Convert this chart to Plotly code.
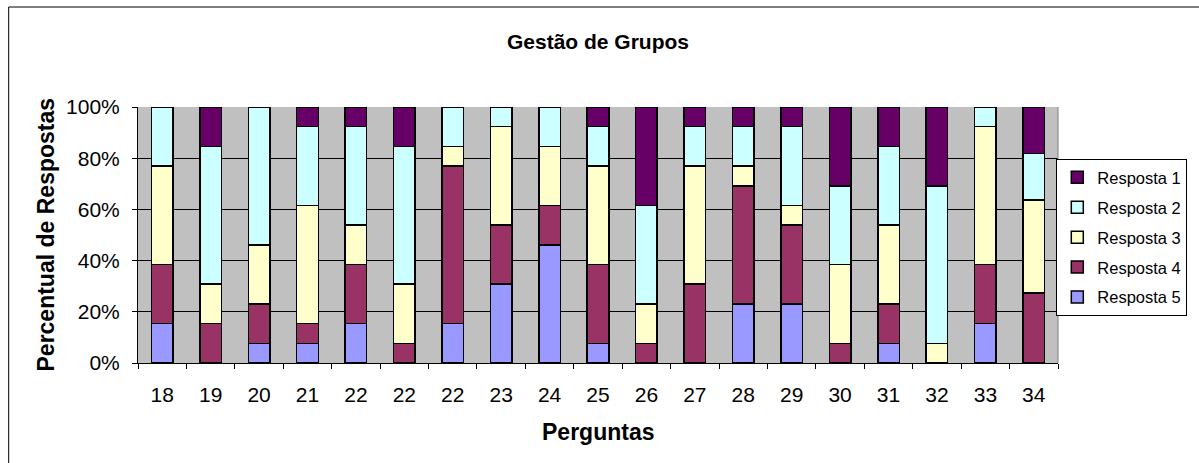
import plotly.graph_objects as go

# ---- data (counts of answers per question) ----
tick_labels = ["18", "19", "20", "21", "22", "22", "22", "23", "24", "25",
               "26", "27", "28", "29", "30", "31", "32", "33", "34"]
resposta1 = [0, 2, 0, 1, 1, 2, 0, 0, 0, 1, 5, 1, 1, 1, 4, 2, 4, 0, 2]
resposta2 = [3, 7, 7, 4, 5, 7, 2, 1, 2, 2, 5, 2, 2, 4, 4, 4, 8, 1, 2]
resposta3 = [5, 2, 3, 6, 2, 3, 1, 5, 3, 5, 2, 6, 1, 1, 4, 4, 1, 7, 4]
resposta4 = [3, 2, 2, 1, 3, 1, 8, 3, 2, 4, 1, 4, 6, 4, 1, 2, 0, 3, 3]
resposta5 = [2, 0, 1, 1, 2, 0, 2, 4, 6, 1, 0, 0, 3, 3, 0, 1, 0, 2, 0]
y_tick_values = [0, 20, 40, 60, 80, 100]
y_tick_text = ["0%", "20%", "40%", "60%", "80%", "100%"]

# unique category keys (repeated labels get invisible zero-width suffixes)
cats = []
seen = {}
for lab in tick_labels:
    n = seen.get(lab, 0)
    cats.append(lab + "\u200b" * n)
    seen[lab] = n + 1

series = [
    ("Resposta 5", resposta5, "#9999FF", 5),
    ("Resposta 4", resposta4, "#993366", 4),
    ("Resposta 3", resposta3, "#FFFFCC", 3),
    ("Resposta 2", resposta2, "#CCFFFF", 2),
    ("Resposta 1", resposta1, "#660066", 1),
]

fig = go.Figure()
for name, vals, col, rank in series:
    fig.add_trace(go.Bar(
        x=cats, y=vals, name=name, legendgroup=name, legendrank=rank,
        marker=dict(color=col, line=dict(color="black", width=1.5)),
    ))

W, H = 1199, 463
L, R, T, B = 138, 136, 107, 100
pw, ph = W - L - R, H - T - B

def px_x(x):
    return (x - L) / pw

def px_y(y):
    return (H - B - y) / ph

fig.update_layout(
    width=W, height=H,
    margin=dict(l=L, r=R, t=T, b=B, pad=0),
    barmode="stack", barnorm="percent", bargap=0.555,
    plot_bgcolor="#C0C0C0", paper_bgcolor="white",
    font=dict(family="Liberation Sans, Arial, sans-serif", color="black", size=21),
    title=dict(text="<b>Gestão de Grupos</b>", x=0.5, xref="paper", xanchor="center",
               y=1 - 42 / H, yanchor="middle", font=dict(size=21)),
    showlegend=True,
    legend=dict(x=px_x(1193), xanchor="right", y=px_y(159), yanchor="top",
                bgcolor="white", bordercolor="black", borderwidth=1,
                font=dict(size=16.5), traceorder="grouped", tracegroupgap=5.5),
    xaxis=dict(type="category", tickson="boundaries", ticks="outside", ticklen=5,
               tickcolor="black", showline=True, linecolor="black", linewidth=1,
               showgrid=False, tickfont=dict(size=21), ticklabelstandoff=13),
    yaxis=dict(range=[0, 100], tickmode="array", tickvals=y_tick_values,
               ticktext=y_tick_text, ticks="outside",
               ticklen=5, tickcolor="black", showline=True, linecolor="black",
               showgrid=True, gridcolor="black", gridwidth=1, zeroline=False,
               tickfont=dict(size=21), ticklabelstandoff=8),
    hovermode=False,
    annotations=[
        dict(text="<b>Perguntas</b>", xref="paper", yref="paper", x=0.5, y=px_y(432),
             xanchor="center", yanchor="middle", showarrow=False, font=dict(size=23)),
        dict(text="<b>Percentual de Respostas</b>", xref="paper", yref="paper",
             x=px_x(45), y=0.5, xanchor="center", yanchor="middle", textangle=-90,
             showarrow=False, font=dict(size=23)),
    ],
    shapes=[
        dict(type="line", xref="paper", yref="paper", x0=1, x1=1, y0=0, y1=1,
             line=dict(color="#808080", width=1)),
        dict(type="rect", xref="paper", yref="paper", x0=px_x(8), x1=px_x(1215),
             y0=px_y(480), y1=px_y(7), line=dict(color="black", width=1),
             fillcolor="rgba(0,0,0,0)"),
    ],
)

fig.write_html("out.html", config={"displayModeBar": False},
               post_script="document.body.style.margin='0';")
